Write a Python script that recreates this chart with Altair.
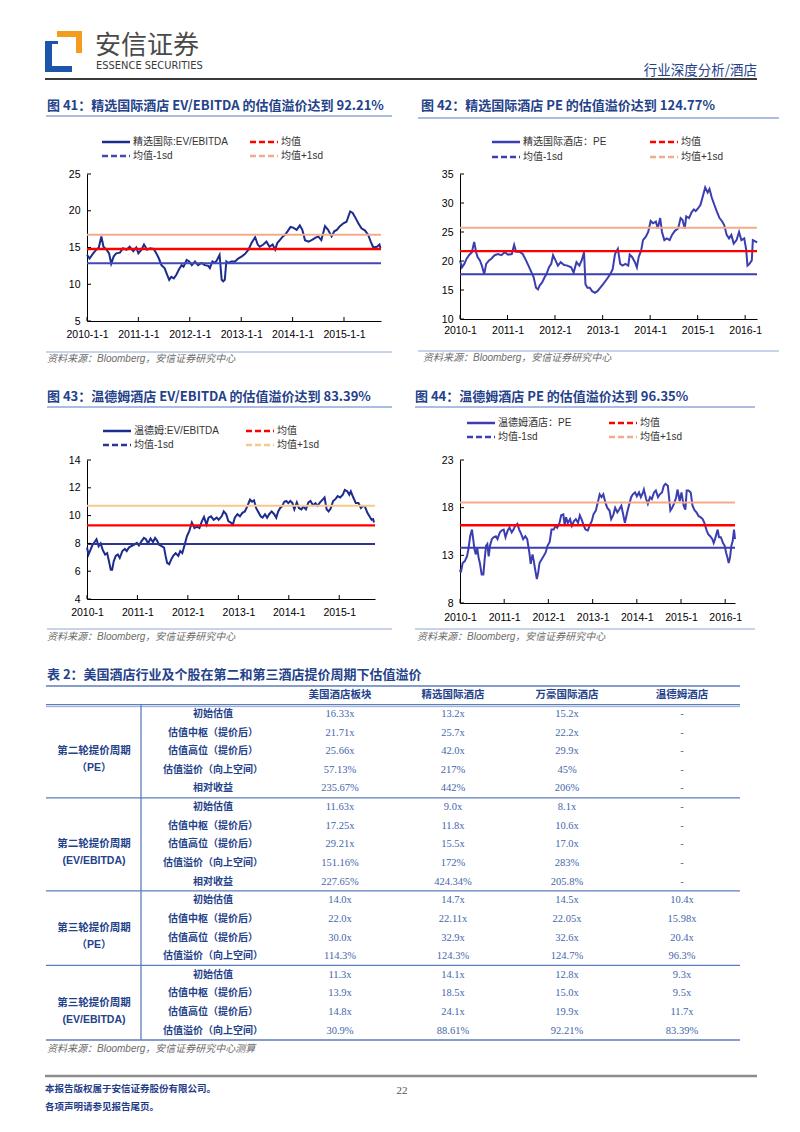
import altair as alt
import pandas as pd

# ------------------------------------------------------------------ data
NAMES41 = ["精选国际:EV/EBITDA", "均值", "均值-1sd", "均值+1sd"]
NAMES42 = ["精选国际酒店：PE", "均值", "均值-1sd", "均值+1sd"]
NAMES43 = ["温德姆:EV/EBITDA", "均值", "均值-1sd", "均值+1sd"]
NAMES44 = ["温德姆酒店：PE", "均值", "均值-1sd", "均值+1sd"]

TITLE41 = "图 41：精选国际酒店 EV/EBITDA 的估值溢价达到 92.21%"
TITLE42 = "图 42：精选国际酒店 PE 的估值溢价达到 124.77%"
TITLE43 = "图 43：温德姆酒店 EV/EBITDA 的估值溢价达到 83.39%"
TITLE44 = "图 44：温德姆酒店 PE 的估值溢价达到 96.35%"
SOURCE = "资料来源：Bloomberg，安信证券研究中心"

# (decimal year, value)
PTS41 = [(2010.00,14.0),(2010.05,13.5),(2010.12,14.2),(2010.18,14.7),(2010.23,15.0),(2010.28,16.5),(2010.32,15.1),
 (2010.38,14.7),(2010.43,14.2),(2010.47,12.8),(2010.52,13.8),(2010.57,14.2),(2010.64,14.3),(2010.70,14.9),(2010.77,14.7),
 (2010.83,15.1),(2010.90,14.5),(2010.96,15.0),(2011.00,14.2),(2011.06,14.7),(2011.11,15.4),(2011.17,14.7),(2011.23,14.9),
 (2011.30,14.8),(2011.35,14.2),(2011.40,13.5),(2011.45,12.6),(2011.51,12.2),(2011.56,11.3),(2011.60,10.6),(2011.64,11.0),
 (2011.69,10.8),(2011.74,11.3),(2011.79,12.0),(2011.84,12.6),(2011.88,12.4),(2011.94,13.3),(2011.99,13.1),(2012.04,12.6),
 (2012.10,13.1),(2012.16,12.6),(2012.23,12.9),(2012.29,12.6),(2012.36,12.5),(2012.39,12.2),(2012.44,13.1),(2012.49,12.9),
 (2012.53,13.3),(2012.58,14.0),(2012.62,10.6),(2012.65,10.4),(2012.68,10.6),(2012.71,13.1),(2012.75,12.9),(2012.81,13.1),
 (2012.88,13.1),(2012.94,13.5),(2013.01,13.8),(2013.07,14.1),(2013.14,14.7),(2013.20,15.6),(2013.27,16.4),(2013.32,15.4),
 (2013.36,15.1),(2013.43,15.4),(2013.49,15.8),(2013.55,15.1),(2013.61,15.4),(2013.66,14.7),(2013.70,15.6),(2013.75,16.0),
 (2013.81,16.5),(2013.85,16.7),(2013.90,17.2),(2013.96,17.8),(2014.01,17.7),(2014.08,17.4),(2014.14,18.0),(2014.19,17.4),
 (2014.24,16.0),(2014.31,15.8),(2014.37,16.0),(2014.44,16.3),(2014.50,16.5),(2014.56,16.0),(2014.63,17.9),(2014.69,17.4),
 (2014.76,16.5),(2014.81,17.2),(2014.86,17.4),(2014.92,17.9),(2014.99,18.3),(2015.05,18.5),(2015.12,19.9),(2015.17,19.7),
 (2015.21,19.2),(2015.28,18.3),(2015.34,17.6),(2015.41,17.3),(2015.47,16.7),(2015.52,15.8),(2015.57,15.0),(2015.64,15.1),
 (2015.69,15.4),(2015.71,14.9)]
CONST41 = [14.8, 12.85, 16.75]          # 均值, 均值-1sd, 均值+1sd
YTICKS41 = [5, 10, 15, 20, 25]
YEARS41 = [2010, 2011, 2012, 2013, 2014, 2015]

PTS42 = [(2010.00,20.1),(2010.04,18.9),(2010.09,19.5),(2010.14,20.4),(2010.19,21.0),(2010.25,21.5),(2010.30,23.3),
 (2010.34,21.5),(2010.37,20.7),(2010.42,20.1),(2010.46,19.2),(2010.51,17.7),(2010.55,19.5),(2010.61,20.1),(2010.66,20.4),
 (2010.73,21.0),(2010.80,21.2),(2010.87,21.0),(2010.94,21.5),(2011.01,21.1),(2011.09,21.2),(2011.14,22.8),(2011.18,21.6),
 (2011.25,21.6),(2011.32,21.2),(2011.39,20.1),(2011.44,19.2),(2011.49,18.3),(2011.55,17.2),(2011.60,15.4),(2011.64,15.1),
 (2011.68,15.8),(2011.73,16.3),(2011.78,17.2),(2011.82,17.7),(2011.87,18.9),(2011.92,19.5),(2011.96,21.0),(2012.01,20.1),
 (2012.06,19.2),(2012.12,19.8),(2012.19,19.3),(2012.26,19.2),(2012.34,18.9),(2012.39,18.0),(2012.45,19.8),(2012.51,19.2),
 (2012.56,20.1),(2012.61,21.5),(2012.64,16.0),(2012.68,15.4),(2012.73,15.4),(2012.78,14.8),(2012.84,14.5),(2012.89,14.8),
 (2012.95,15.4),(2013.01,16.0),(2013.09,16.9),(2013.16,17.7),(2013.21,18.6),(2013.26,21.2),(2013.32,22.1),(2013.37,19.5),
 (2013.42,19.2),(2013.48,19.5),(2013.54,19.2),(2013.57,21.1),(2013.62,20.7),(2013.68,19.8),(2013.72,18.9),(2013.76,20.7),
 (2013.81,21.8),(2013.85,23.6),(2013.91,24.2),(2013.96,25.0),(2014.01,26.9),(2014.06,26.5),(2014.12,26.8),(2014.16,25.6),
 (2014.21,27.4),(2014.25,25.0),(2014.30,23.6),(2014.35,23.9),(2014.41,23.6),(2014.46,24.5),(2014.52,25.2),(2014.59,25.6),
 (2014.64,27.4),(2014.68,27.1),(2014.73,25.6),(2014.76,27.7),(2014.82,27.4),(2014.87,28.4),(2014.92,28.9),(2014.96,28.6),
 (2015.01,29.1),(2015.06,29.7),(2015.12,31.5),(2015.16,32.7),(2015.21,31.8),(2015.25,32.4),(2015.30,30.9),(2015.35,29.7),
 (2015.41,28.4),(2015.46,27.4),(2015.51,26.9),(2015.56,26.2),(2015.61,24.5),(2015.66,23.9),(2015.71,24.5),(2015.76,23.0),
 (2015.82,23.6),(2015.87,25.0),(2015.92,23.6),(2015.98,23.9),(2016.02,22.1),(2016.05,19.2),(2016.09,19.5),(2016.14,20.1),
 (2016.16,23.6),(2016.21,23.4),(2016.25,23.2)]
CONST42 = [21.7, 17.7, 25.75]
YTICKS42 = [10, 15, 20, 25, 30, 35]
YEARS42 = [2010, 2011, 2012, 2013, 2014, 2015, 2016]

PTS43 = [(2010.00,7.7),(2010.03,7.2),(2010.07,7.55),(2010.11,7.9),(2010.15,8.1),(2010.19,8.3),(2010.23,7.8),(2010.27,8.0),
 (2010.31,7.55),(2010.36,7.2),(2010.40,7.3),(2010.43,6.8),(2010.47,6.1),(2010.50,6.1),(2010.53,6.7),(2010.57,7.1),(2010.61,7.2),
 (2010.65,6.95),(2010.70,7.45),(2010.75,7.6),(2010.79,7.45),(2010.83,7.7),(2010.88,7.8),(2010.93,7.9),(2010.99,8.04),
 (2011.03,7.85),(2011.08,8.15),(2011.13,8.4),(2011.17,8.3),(2011.21,8.0),(2011.26,8.35),(2011.31,8.1),(2011.35,8.4),
 (2011.39,8.2),(2011.43,7.9),(2011.48,7.8),(2011.53,7.7),(2011.56,7.1),(2011.59,6.6),(2011.63,6.5),(2011.67,6.85),
 (2011.71,7.1),(2011.76,7.3),(2011.81,7.1),(2011.85,7.45),(2011.89,7.3),(2011.93,7.8),(2011.98,8.5),(2012.03,8.9),
 (2012.08,9.5),(2012.13,9.1),(2012.18,9.2),(2012.23,9.1),(2012.28,9.6),(2012.32,9.9),(2012.37,9.35),(2012.41,9.85),
 (2012.46,9.95),(2012.51,9.7),(2012.57,9.85),(2012.61,9.7),(2012.67,9.95),(2012.71,10.3),(2012.76,10.1),(2012.80,9.6),
 (2012.85,9.5),(2012.89,9.35),(2012.93,9.85),(2012.98,10.1),(2013.03,9.95),(2013.08,10.2),(2013.13,10.3),(2013.18,10.7),
 (2013.23,11.15),(2013.27,11.0),(2013.31,11.1),(2013.35,10.55),(2013.39,10.3),(2013.44,9.95),(2013.48,9.85),(2013.53,10.1),
 (2013.57,9.85),(2013.61,10.1),(2013.66,10.3),(2013.71,10.1),(2013.75,9.85),(2013.79,10.3),(2013.83,10.55),(2013.87,10.7),
 (2013.91,11.0),(2013.95,11.05),(2013.99,10.9),(2014.03,11.05),(2014.07,10.9),(2014.11,10.45),(2014.16,10.95),(2014.20,10.55),
 (2014.25,10.45),(2014.29,10.65),(2014.34,10.45),(2014.39,10.95),(2014.43,11.05),(2014.48,10.75),(2014.53,10.9),(2014.57,10.7),
 (2014.62,10.95),(2014.67,11.15),(2014.71,11.3),(2014.75,10.45),(2014.79,10.3),(2014.83,10.5),(2014.88,11.05),(2014.93,11.2),
 (2014.97,11.4),(2015.02,11.3),(2015.07,11.5),(2015.11,11.85),(2015.16,11.75),(2015.20,11.5),(2015.23,11.75),(2015.28,11.3),
 (2015.33,10.9),(2015.38,10.9),(2015.43,10.55),(2015.47,10.7),(2015.51,10.65),(2015.56,10.2),(2015.60,9.95),(2015.64,9.7),
 (2015.67,9.75),(2015.69,9.5)]
CONST43 = [9.3, 7.95, 10.7]
YTICKS43 = [4, 6, 8, 10, 12, 14]
YEARS43 = [2010, 2011, 2012, 2013, 2014, 2015]

PTS44 = [(2010.00,11.5),(2010.02,11.2),(2010.06,12.2),(2010.11,12.4),(2010.16,12.9),(2010.19,13.6),(2010.23,15.0),
 (2010.27,15.7),(2010.30,14.7),(2010.33,13.6),(2010.36,13.1),(2010.39,13.8),(2010.42,12.8),(2010.45,12.2),(2010.49,11.0),
 (2010.53,11.0),(2010.56,12.6),(2010.59,14.0),(2010.62,14.2),(2010.65,12.9),(2010.68,14.0),(2010.72,14.7),(2010.76,14.9),
 (2010.81,15.0),(2010.85,14.7),(2010.90,15.4),(2010.94,15.6),(2010.99,15.7),(2011.03,14.9),(2011.08,15.6),(2011.12,15.9),
 (2011.17,15.4),(2011.21,15.7),(2011.25,16.1),(2011.30,16.3),(2011.34,15.7),(2011.39,15.2),(2011.43,14.7),(2011.48,15.0),
 (2011.52,14.7),(2011.57,13.3),(2011.60,12.1),(2011.64,13.1),(2011.67,12.4),(2011.70,11.5),(2011.74,10.5),(2011.77,11.2),
 (2011.80,12.2),(2011.85,12.6),(2011.89,12.9),(2011.94,13.3),(2011.98,14.0),(2012.03,14.4),(2012.07,15.7),(2012.12,15.7),
 (2012.16,16.1),(2012.20,15.9),(2012.25,16.4),(2012.29,17.2),(2012.34,17.3),(2012.37,16.1),(2012.40,17.0),(2012.44,16.4),
 (2012.49,16.8),(2012.53,16.1),(2012.58,16.6),(2012.62,16.8),(2012.67,16.4),(2012.71,17.2),(2012.75,16.8),(2012.80,16.1),
 (2012.84,15.7),(2012.89,15.6),(2012.93,16.1),(2012.98,16.6),(2013.02,17.3),(2013.07,17.7),(2013.11,18.4),(2013.16,19.4),
 (2013.20,19.1),(2013.24,19.4),(2013.29,18.5),(2013.33,18.0),(2013.38,17.7),(2013.42,16.8),(2013.47,17.3),(2013.51,18.0),
 (2013.56,17.5),(2013.60,17.8),(2013.65,18.2),(2013.69,17.3),(2013.73,16.4),(2013.78,17.5),(2013.82,18.2),(2013.87,19.1),
 (2013.91,19.4),(2013.96,19.6),(2014.00,19.2),(2014.05,19.6),(2014.09,19.1),(2014.14,19.6),(2014.16,19.9),(2014.21,18.9),
 (2014.25,18.4),(2014.30,19.1),(2014.34,18.9),(2014.39,19.6),(2014.43,19.8),(2014.48,19.1),(2014.52,19.4),(2014.57,19.6),
 (2014.61,20.3),(2014.65,20.5),(2014.70,20.3),(2014.73,19.1),(2014.76,17.7),(2014.80,18.0),(2014.85,18.5),(2014.89,19.1),
 (2014.92,19.9),(2014.97,18.7),(2015.01,19.6),(2015.06,18.2),(2015.10,17.8),(2015.13,19.8),(2015.17,19.8),(2015.22,19.6),
 (2015.26,18.2),(2015.31,17.7),(2015.35,17.5),(2015.40,17.1),(2015.44,17.0),(2015.49,16.8),(2015.53,16.4),(2015.58,15.6),
 (2015.62,15.2),(2015.66,15.0),(2015.71,14.7),(2015.74,14.3),(2015.77,14.7),(2015.80,15.2),(2015.83,15.7),(2015.86,14.9),
 (2015.90,14.9),(2015.95,14.3),(2015.99,14.0),(2016.02,13.3),(2016.05,12.8),(2016.08,12.2),(2016.11,12.8),(2016.14,14.0),
 (2016.17,14.5),(2016.20,15.7),(2016.22,14.7)]
CONST44 = [16.15, 13.8, 18.55]
YTICKS44 = [8, 13, 18, 23]
YEARS44 = [2010, 2011, 2012, 2013, 2014, 2015, 2016]

TABLE_TITLE = "表 2：美国酒店行业及个股在第二和第三酒店提价周期下估值溢价"
TABLE_SOURCE = "资料来源：Bloomberg，安信证券研究中心测算"
TABLE_HEAD = ["美国酒店板块", "精选国际酒店", "万豪国际酒店", "温德姆酒店"]
GROUP_NAMES = ["第二轮提价周期\n（PE）", "第二轮提价周期\n(EV/EBITDA)",
               "第三轮提价周期\n（PE）", "第三轮提价周期\n(EV/EBITDA)"]
METRICS = ["初始估值", "估值中枢（提价后）", "估值高位（提价后）", "估值溢价（向上空间）", "相对收益"]
G1 = [["16.33x", "13.2x", "15.2x", "-"], ["21.71x", "25.7x", "22.2x", "-"], ["25.66x", "42.0x", "29.9x", "-"],
      ["57.13%", "217%", "45%", "-"], ["235.67%", "442%", "206%", "-"]]
G2 = [["11.63x", "9.0x", "8.1x", "-"], ["17.25x", "11.8x", "10.6x", "-"], ["29.21x", "15.5x", "17.0x", "-"],
      ["151.16%", "172%", "283%", "-"], ["227.65%", "424.34%", "205.8%", "-"]]
G3 = [["14.0x", "14.7x", "14.5x", "10.4x"], ["22.0x", "22.11x", "22.05x", "15.98x"],
      ["30.0x", "32.9x", "32.6x", "20.4x"], ["114.3%", "124.3%", "124.7%", "96.3%"]]
G4 = [["11.3x", "14.1x", "12.8x", "9.3x"], ["13.9x", "18.5x", "15.0x", "9.5x"],
      ["14.8x", "24.1x", "19.9x", "11.7x"], ["30.9%", "88.61%", "92.21%", "83.39%"]]

HEADER_CN = "安信证券"
HEADER_EN = "ESSENCE SECURITIES"
HEADER_RIGHT = "行业深度分析/酒店"
FOOT1 = "本报告版权属于安信证券股份有限公司。"
FOOT2 = "各项声明请参见报告尾页。"
PAGE_NO = "22"

# ------------------------------------------------------------------ styles
CJK = "Noto Sans CJK SC"
MIX = "Liberation Sans, Noto Sans CJK SC, sans-serif"
SANS = "Liberation Sans, Arial, sans-serif"
SERIF = "Liberation Serif, Times New Roman, serif"
NARROW = "Liberation Sans Narrow, DejaVu Sans Condensed, Liberation Sans, sans-serif"
TITLE_BLUE = "#24428a"
LINE_BLUE = "#8fa8d6"
TABLE_LINE = "#5b7dbd"
VALUE_BLUE = "#4466ad"

ONE = pd.DataFrame({"k": [0]})


def to_date(t):
    y = int(t + 1e-9)
    start = pd.Timestamp(year=y, month=1, day=1)
    n = (pd.Timestamp(year=y + 1, month=1, day=1) - start).days
    return start + pd.Timedelta(days=int(round((t - y) * n)))


def dt(y, m, d):
    return alt.DateTime(year=y, month=m, date=d)


def txt(x, y, s, font=CJK, size=10, color="#333333", weight="normal", align="left", style="normal", **kw):
    return alt.Chart(ONE).mark_text(align=align, baseline="middle", font=font, fontSize=size,
                                    fontWeight=weight, fontStyle=style, color=color, **kw).encode(
        x=alt.value(x), y=alt.value(y), text=alt.value(s))


def hline(x1, x2, y, color, width, **kw):
    return alt.Chart(ONE).mark_rule(color=color, strokeWidth=width, **kw).encode(
        x=alt.value(x1), x2=alt.value(x2), y=alt.value(y))


def box(x1, y1, x2, y2, color, **kw):
    return alt.Chart(ONE).mark_rect(color=color, **kw).encode(
        x=alt.value(x1), x2=alt.value(x2), y=alt.value(y1), y2=alt.value(y2))


def spacer(w, h):
    return alt.Chart(ONE).mark_point(opacity=0).encode(
        x=alt.value(0), y=alt.value(0)).properties(width=w, height=h)


def panel(pts, consts, names, colors, yticks, years, fmt, xend, title, L):
    w, h = L["w"], L["h"]
    df = pd.DataFrame({"date": [to_date(t) for t, _ in pts], "value": [v for _, v in pts]})
    xs = alt.Scale(domain=[dt(2010, 1, 1), xend])
    ys = alt.Scale(domain=[yticks[0], yticks[-1]], nice=False, zero=False)
    xaxis = alt.Axis(values=[dt(y, 1, 1) for y in years], format=fmt, formatType="time", ticks=False,
                     grid=False, domainColor="black", domainWidth=1, labelFont=SANS, labelFontSize=10.5,
                     labelColor="black", labelPadding=L["xpad"], labelFlush=False, labelOverlap=False)
    yaxis = alt.Axis(values=yticks, ticks=False, grid=False, domainColor="black", domainWidth=1,
                     labelFont=SANS, labelFontSize=10.5, labelColor="black", labelPadding=L["ypad"],
                     labelFlush=False, labelOverlap=False)
    layers = [alt.Chart(df).mark_line(color=colors[0], strokeWidth=2).encode(
        x=alt.X("date:T", title=None, scale=xs, axis=xaxis),
        y=alt.Y("value:Q", title=None, scale=ys, axis=yaxis))]
    for c, col, sw in zip(consts, colors[1:], [2.4, 2, 2]):
        layers.append(alt.Chart(pd.DataFrame({"value": [c]})).mark_rule(color=col, strokeWidth=sw).encode(
            y=alt.Y("value:Q", title=None, scale=ys, axis=yaxis)))
    # inward ticks
    layers.append(alt.Chart(pd.DataFrame({"value": yticks})).mark_rule(color="black", strokeWidth=1).encode(
        y=alt.Y("value:Q", title=None, scale=ys, axis=yaxis), x=alt.value(0), x2=alt.value(4)))
    layers.append(alt.Chart(pd.DataFrame({"date": [pd.Timestamp(year=y, month=1, day=1) for y in years]}))
                  .mark_rule(color="black", strokeWidth=1).encode(
        x=alt.X("date:T", title=None, scale=xs, axis=xaxis), y=alt.value(h), y2=alt.value(h - 4)))
    # title + underline
    tx, ty = L["title"]
    layers.append(txt(tx, ty, title, font=CJK, size=13, color=TITLE_BLUE, weight="bold"))
    x1, x2, uy = L["uline"]
    layers.append(hline(x1, x2, uy, LINE_BLUE, 1.5))
    # legend
    lx, ly, c2, dy = L["legend"]
    spots = [(lx, ly), (lx + c2, ly), (lx, ly + dy), (lx + c2, ly + dy)]
    for i, ((ex, ey), nm, col) in enumerate(zip(spots, names, colors)):
        kw = {} if i == 0 else {"strokeDash": [6, 3]}
        layers.append(hline(ex, ex + 28, ey, col, 2.5, **kw))
        layers.append(txt(ex + 31, ey, nm, font=MIX, size=10, color="#333333"))
    # source
    sx1, sx2, sy, stx, sty = L["src"]
    layers.append(hline(sx1, sx2, sy, LINE_BLUE, 1))
    layers.append(txt(stx, sty, SOURCE, font=MIX, size=10, color="#6b6b6b", style="italic"))
    return alt.layer(*layers).properties(width=w, height=h)


# panel geometry (pixels relative to each plot's top-left corner)
L41 = dict(w=294, h=147, title=(-40, -68), uline=(-41, 305, -58), legend=(15, -32, 148, 14),
           src=(-41, 305, 178, -40, 185), xpad=8, ypad=7)
L42 = dict(w=297, h=145, title=(-39, -68), uline=(-42, 319, -56), legend=(32, -32, 158, 15),
           src=(-42, 319, 177, -37, 184), xpad=6, ypad=7)
L43 = dict(w=288, h=139, title=(-40, -63), uline=(-40, 305, -53), legend=(16, -29, 143, 14),
           src=(-40, 305, 169, -40, 177), xpad=8, ypad=7)
L44 = dict(w=275, h=143, title=(-45, -63), uline=(-45, 295, -53), legend=(7, -37, 142, 14),
           src=(-45, 295, 169, -43, 177), xpad=9, ypad=7)

C41 = ["#1c2c8c", "#ff0000", "#4049b4", "#f4ab8c"]
C42 = ["#3b3eb0", "#ff0000", "#3b3eb0", "#f4ab8c"]
C43 = ["#1c2c8c", "#ff0000", "#2c3592", "#f7c889"]
C44 = ["#3b3eb0", "#ff0000", "#3b3eb0", "#f4ab8c"]

c41 = panel(PTS41, CONST41, NAMES41, C41, YTICKS41, YEARS41, "%Y-%-m-%-d", dt(2015, 9, 21), TITLE41, L41)
c42 = panel(PTS42, CONST42, NAMES42, C42, YTICKS42, YEARS42, "%Y-%-m", dt(2016, 4, 1), TITLE42, L42)
c43 = panel(PTS43, CONST43, NAMES43, C43, YTICKS43, YEARS43, "%Y-%-m", dt(2015, 9, 17), TITLE43, L43)
c44 = panel(PTS44, CONST44, NAMES44, C44, YTICKS44, YEARS44, "%Y-%-m", dt(2016, 3, 22), TITLE44, L44)

# ------------------------------------------------------------------ header (origin = left plot column)
header = alt.layer(
    box(-79, 0, -78, 1, "white", opacity=0),          # left anchor of the page
    box(-30, 20, -5, 26, "#f39c1f"),
    box(-11, 20, -5, 42, "#f39c1f"),
    box(-42, 30, -29, 33, "#1d55a8"),
    box(-42, 30, -35, 61, "#1d55a8"),
    box(-42, 55, -15, 61, "#1d55a8"),
    txt(8, 35, HEADER_CN, font=CJK, size=26, color="#4a4a4a"),
    txt(9, 55, HEADER_EN, font=NARROW, size=11, color="#3a3a3a"),
    txt(670, 60, HEADER_RIGHT, font=CJK, size=13.5, color=TITLE_BLUE, align="right"),
    hline(-42, 670, 68, "#3a3a3a", 2),
).properties(width=294, height=163)

# ------------------------------------------------------------------ table
head_rows, metric_rows, value_rows, group_rows = [], [], [], []
seps = [-0.5, 0.5]
for j, hname in enumerate(TABLE_HEAD):
    head_rows.append({"col": j + 2, "row": 0, "text": hname})
r = 1
for gname, grp in zip(GROUP_NAMES, [G1, G2, G3, G4]):
    start = r
    for m, vals in zip(METRICS, grp):
        metric_rows.append({"col": 1, "row": r, "text": m})
        for j, v in enumerate(vals):
            value_rows.append({"col": j + 2, "row": r, "text": v})
        r += 1
    group_rows.append({"col": 0, "row": (start + r - 1) / 2, "text": gname})
    seps.append(r - 0.5)
nrows = r - 1

TH = 354
TX0, TX1 = -41, 653
tx_scale = alt.Scale(domain=[0, 1, 2, 3, 4, 5], range=[7, 126, 253, 366, 480, 595], zero=False, nice=False)
ty_scale = alt.Scale(domain=[-0.5, nrows + 0.5], reverse=True, zero=False, nice=False)


def table_text(rows, **mk):
    return alt.Chart(pd.DataFrame(rows)).mark_text(baseline="middle", align="center", **mk).encode(
        x=alt.X("col:Q", scale=tx_scale, axis=None, title=None),
        y=alt.Y("row:Q", scale=ty_scale, axis=None, title=None),
        text="text:N")


table = alt.layer(
    alt.Chart(pd.DataFrame({"row": seps})).mark_rule(color=TABLE_LINE, strokeWidth=1.3).encode(
        y=alt.Y("row:Q", scale=ty_scale, axis=None, title=None), x=alt.value(TX0), x2=alt.value(TX1)),
    alt.Chart(pd.DataFrame({"row": [0.5]})).mark_rule(color=LINE_BLUE, strokeWidth=1, yOffset=2).encode(
        y=alt.Y("row:Q", scale=ty_scale, axis=None, title=None), x=alt.value(TX0), x2=alt.value(TX1)),
    alt.Chart(pd.DataFrame({"row": [0.5], "row2": [nrows + 0.5]})).mark_rule(color=TABLE_LINE, strokeWidth=1.3).encode(
        y=alt.Y("row:Q", scale=ty_scale, axis=None, title=None), y2="row2:Q", x=alt.value(54)),
    table_text(head_rows, font=CJK, fontSize=10.5, fontWeight="bold", color=TITLE_BLUE),
    table_text(metric_rows, font=CJK, fontSize=10, fontWeight="bold", color=TITLE_BLUE),
    table_text(value_rows, font=SERIF, fontSize=10.5, color=VALUE_BLUE),
    table_text(group_rows, font=MIX, fontSize=10.5, fontWeight="bold", color=TITLE_BLUE, lineBreak="\n",
               lineHeight=17),
    txt(-40, -11, TABLE_TITLE, font=CJK, size=13, color=TITLE_BLUE, weight="bold"),
    txt(-40, 363, TABLE_SOURCE, font=MIX, size=10, color="#6b6b6b", style="italic"),
).properties(width=294, height=TH)

# ------------------------------------------------------------------ footer
footer = alt.layer(
    hline(-42, 670, 0, "#8c8c8c", 2.5),
    txt(-42, 13, FOOT1, font=CJK, size=9.5, color="#1f3c88", weight="bold"),
    txt(-42, 31, FOOT2, font=CJK, size=9.5, color="#1f3c88", weight="bold"),
    txt(315, 15, PAGE_NO, font=SERIF, size=11, color="#555555", align="center"),
).properties(width=294, height=50)

cells = [
    header, spacer(1, 1),
    c41, c42,
    spacer(1, 139), spacer(1, 1),
    c43, c44,
    spacer(1, 83), spacer(1, 1),
    table, spacer(1, 1),
    spacer(1, 36), spacer(1, 1),
    footer, spacer(1, 1),
]

chart = alt.concat(*cells, columns=2, spacing={"row": 0, "column": 79}, bounds="flush",
                   align="each").properties(padding=0, background="white").configure_view(strokeWidth=0)

chart.save("out.html", embed_options={"renderer": "svg", "actions": False})
